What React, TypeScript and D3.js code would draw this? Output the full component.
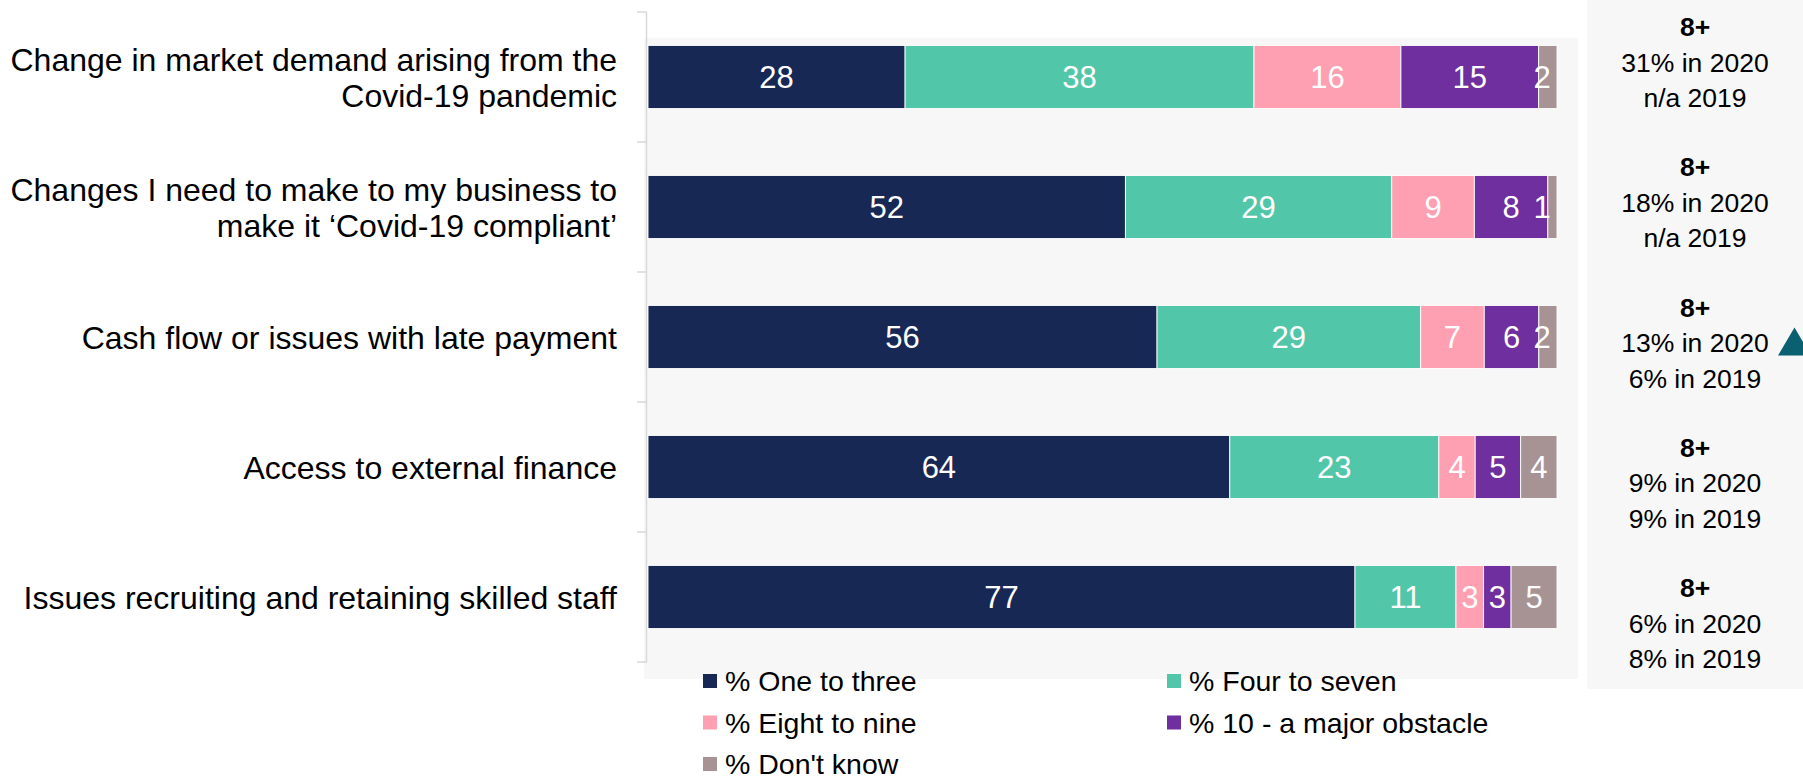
import React from "react";
import * as d3 from "d3";

const categories = [
  ["Change in market demand arising from the", "Covid-19 pandemic"],
  ["Changes I need to make to my business to", "make it \u2018Covid-19 compliant\u2019"],
  ["Cash flow or issues with late payment"],
  ["Access to external finance"],
  ["Issues recruiting and retaining skilled staff"],
];
const seriesNames = ["% One to three", "% Four to seven", "% Eight to nine", "% 10 - a major obstacle", "% Don't know"];
const oneToThree = [28, 52, 56, 64, 77];
const fourToSeven = [38, 29, 29, 23, 11];
const eightToNine = [16, 9, 7, 4, 3];
const tenMajor = [15, 8, 6, 5, 3];
const dontKnow = [2, 1, 2, 4, 5];
const noteHeader = "8+";
const note2020 = ["31% in 2020", "18% in 2020", "13% in 2020", "9% in 2020", "6% in 2020"];
const note2019 = ["n/a 2019", "n/a 2019", "6% in 2019", "9% in 2019", "8% in 2019"];
const significant = [false, false, true, false, false];

const colors = ["#172854", "#52c6a8", "#ff9fb2", "#6f2f9e", "#a79394"];
const FONT = "'Liberation Sans', Arial, Helvetica, sans-serif";

export default function App() {
  const W = 1803, H = 776;
  const seriesArrays = [oneToThree, fourToSeven, eightToNine, tenMajor, dontKnow];
  const rows = categories.map((c, i) => {
    const r: any = { idx: i };
    seriesNames.forEach((s, k) => (r[s] = seriesArrays[k][i]));
    return r;
  });
  const stack = d3.stack<any>().keys(seriesNames).offset(d3.stackOffsetExpand);
  const stacked = stack(rows);

  const x = d3.scaleLinear().domain([0, 1]).range([648, 1557]);
  const y = d3.scaleBand<number>().domain(d3.range(categories.length)).range([12, 662]).paddingInner(0.515).paddingOuter(0.2575);
  const band = (662 - 12) / categories.length;
  const noteY = d3.scaleLinear().domain([0, categories.length - 1]).range([62, 623]);

  return (
    <svg width={W} height={H} style={{ position: "absolute", left: 0, top: 0, background: "#fff" }} fontFamily={FONT}>
      <rect x={644} y={38} width={1578 - 644} height={679 - 38} fill="#f7f7f7" />
      <rect x={1587} y={0} width={W - 1587} height={689} fill="#f7f7f7" />
      {/* axis */}
      <line x1={646.5} x2={646.5} y1={12} y2={663} stroke="#d9d9d9" strokeWidth={1.5} />
      {d3.range(categories.length + 1).map((i) => (
        <line key={i} x1={637} x2={647} y1={12 + i * band} y2={12 + i * band} stroke="#d9d9d9" strokeWidth={1.5} />
      ))}
      {/* bars */}
      {stacked.map((s, k) => (
        <g key={k}>
          {s.map((d, i) => {
            const x0 = x(d[0]), x1 = x(d[1]);
            return (
              <rect key={i} x={x0} y={y(i)!} width={x1 - x0} height={y.bandwidth()} fill={colors[k]} stroke="#ffffff" strokeWidth={1} strokeOpacity={0.9} />
            );
          })}
        </g>
      ))}
      {stacked.map((s, k) => (
        <g key={"l" + k}>
          {s.map((d, i) => {
            const x0 = x(d[0]), x1 = x(d[1]);
            const cx = Math.min((x0 + x1) / 2, 1557 - 15);
            return (
              <text key={i} x={cx} y={y(i)! + y.bandwidth() / 2} dy="0.36em" textAnchor="middle" fill="#fff" fontSize={31}>
                {seriesArrays[k][i]}
              </text>
            );
          })}
        </g>
      ))}
      {/* category labels */}
      {categories.map((lines, i) => {
        const cy = y(i)! + y.bandwidth() / 2;
        return (
          <text key={i} x={617} textAnchor="end" fontSize={32} fill="#000">
            {lines.map((ln, j) => (
              <tspan key={j} x={617} y={cy + (j - (lines.length - 1) / 2) * 36} dy="0.36em">
                {ln}
              </tspan>
            ))}
          </text>
        );
      })}
      {/* right notes */}
      {categories.map((_, i) => {
        const cy = noteY(i);
        return (
          <g key={"n" + i}>
            <text x={1695} y={cy - 35.5} dy="0.36em" textAnchor="middle" fontSize={26.5} fontWeight="bold" fill="#000">{noteHeader}</text>
            <text x={1695} y={cy} dy="0.36em" textAnchor="middle" fontSize={26.5} fill="#000">{note2020[i]}</text>
            <text x={1695} y={cy + 35.5} dy="0.36em" textAnchor="middle" fontSize={26.5} fill="#000">{note2019[i]}</text>
            {significant[i] && (
              <path d={`M${1778},${cy + 13} L${1794.5},${cy - 15} L${1811},${cy + 13} Z`} fill="#0a5f70" />
            )}
          </g>
        );
      })}
      {/* legend */}
      {seriesNames.map((s, i) => {
        const col = i % 2, row = Math.floor(i / 2);
        const mx = 703 + col * 464;
        const my = 681 + row * 41.5;
        return (
          <g key={"lg" + i}>
            <rect x={mx} y={my - 7} width={14} height={14} fill={colors[i]} />
            <text x={mx + 22} y={my} dy="0.36em" fontSize={28.5} fill="#000">{s}</text>
          </g>
        );
      })}
    </svg>
  );
}
